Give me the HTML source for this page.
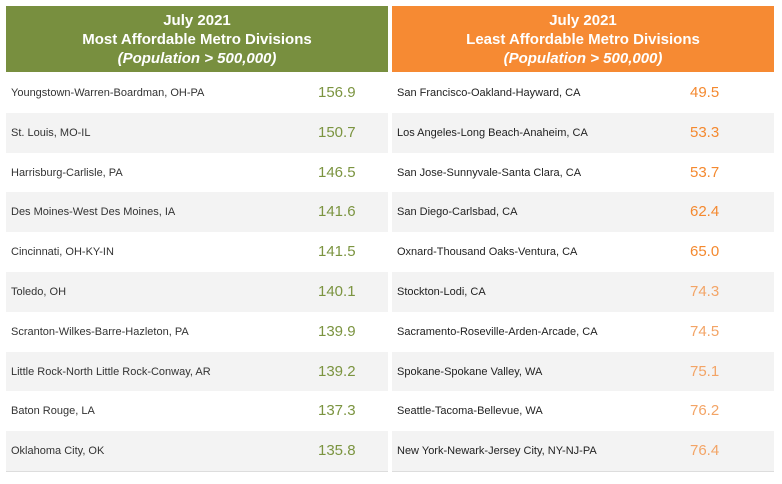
<!DOCTYPE html><html><head><style>
body{margin:0;width:782px;height:484px;background:#fff;font-family:"Liberation Sans",sans-serif;position:relative;overflow:hidden}
.p{position:absolute;top:6px;width:382px}
.h{height:66px;color:#fff;font-weight:bold;font-size:15px;text-align:center;line-height:19px;padding-top:5px;box-sizing:border-box}
.r{height:39.8px;position:relative;font-size:11px;color:#333}
.r:nth-child(even){background:#f3f3f3}
.r span{position:absolute;left:5px;top:14px}
#R .r span{color:#222}
.r b{position:absolute;font-weight:normal;font-size:15px;top:11px}
.rows{border-bottom:1px solid #ddd;margin-top:1px}
</style></head><body>
<div class="p" style="left:6px"><div class="h" style="background:#788f3f">July 2021<br>Most Affordable Metro Divisions<br><i>(Population &gt; 500,000)</i></div>
<div class="rows" id="L"></div></div>
<div class="p" style="left:392px"><div class="h" style="background:#f68a33">July 2021<br>Least Affordable Metro Divisions<br><i>(Population &gt; 500,000)</i></div>
<div class="rows" id="R"></div></div>
<script>
var L=[["Youngstown-Warren-Boardman, OH-PA","156.9"],["St. Louis, MO-IL","150.7"],["Harrisburg-Carlisle, PA","146.5"],["Des Moines-West Des Moines, IA","141.6"],["Cincinnati, OH-KY-IN","141.5"],["Toledo, OH","140.1"],["Scranton-Wilkes-Barre-Hazleton, PA","139.9"],["Little Rock-North Little Rock-Conway, AR","139.2"],["Baton Rouge, LA","137.3"],["Oklahoma City, OK","135.8"]];
var R=[["San Francisco-Oakland-Hayward, CA","49.5"],["Los Angeles-Long Beach-Anaheim, CA","53.3"],["San Jose-Sunnyvale-Santa Clara, CA","53.7"],["San Diego-Carlsbad, CA","62.4"],["Oxnard-Thousand Oaks-Ventura, CA","65.0"],["Stockton-Lodi, CA","74.3"],["Sacramento-Roseville-Arden-Arcade, CA","74.5"],["Spokane-Spokane Valley, WA","75.1"],["Seattle-Tacoma-Bellevue, WA","76.2"],["New York-Newark-Jersey City, NY-NJ-PA","76.4"]];
var h="";L.forEach(function(d){h+='<div class="r"><span>'+d[0]+'</span><b style="left:312px;color:#7b9440">'+d[1]+'</b></div>'});document.getElementById("L").innerHTML=h;
h="";R.forEach(function(d,i){h+='<div class="r"><span>'+d[0]+'</span><b style="left:298px;color:'+(i<5?'#f4892f':'#f3a466')+'">'+d[1]+'</b></div>'});document.getElementById("R").innerHTML=h;
</script></body></html>
